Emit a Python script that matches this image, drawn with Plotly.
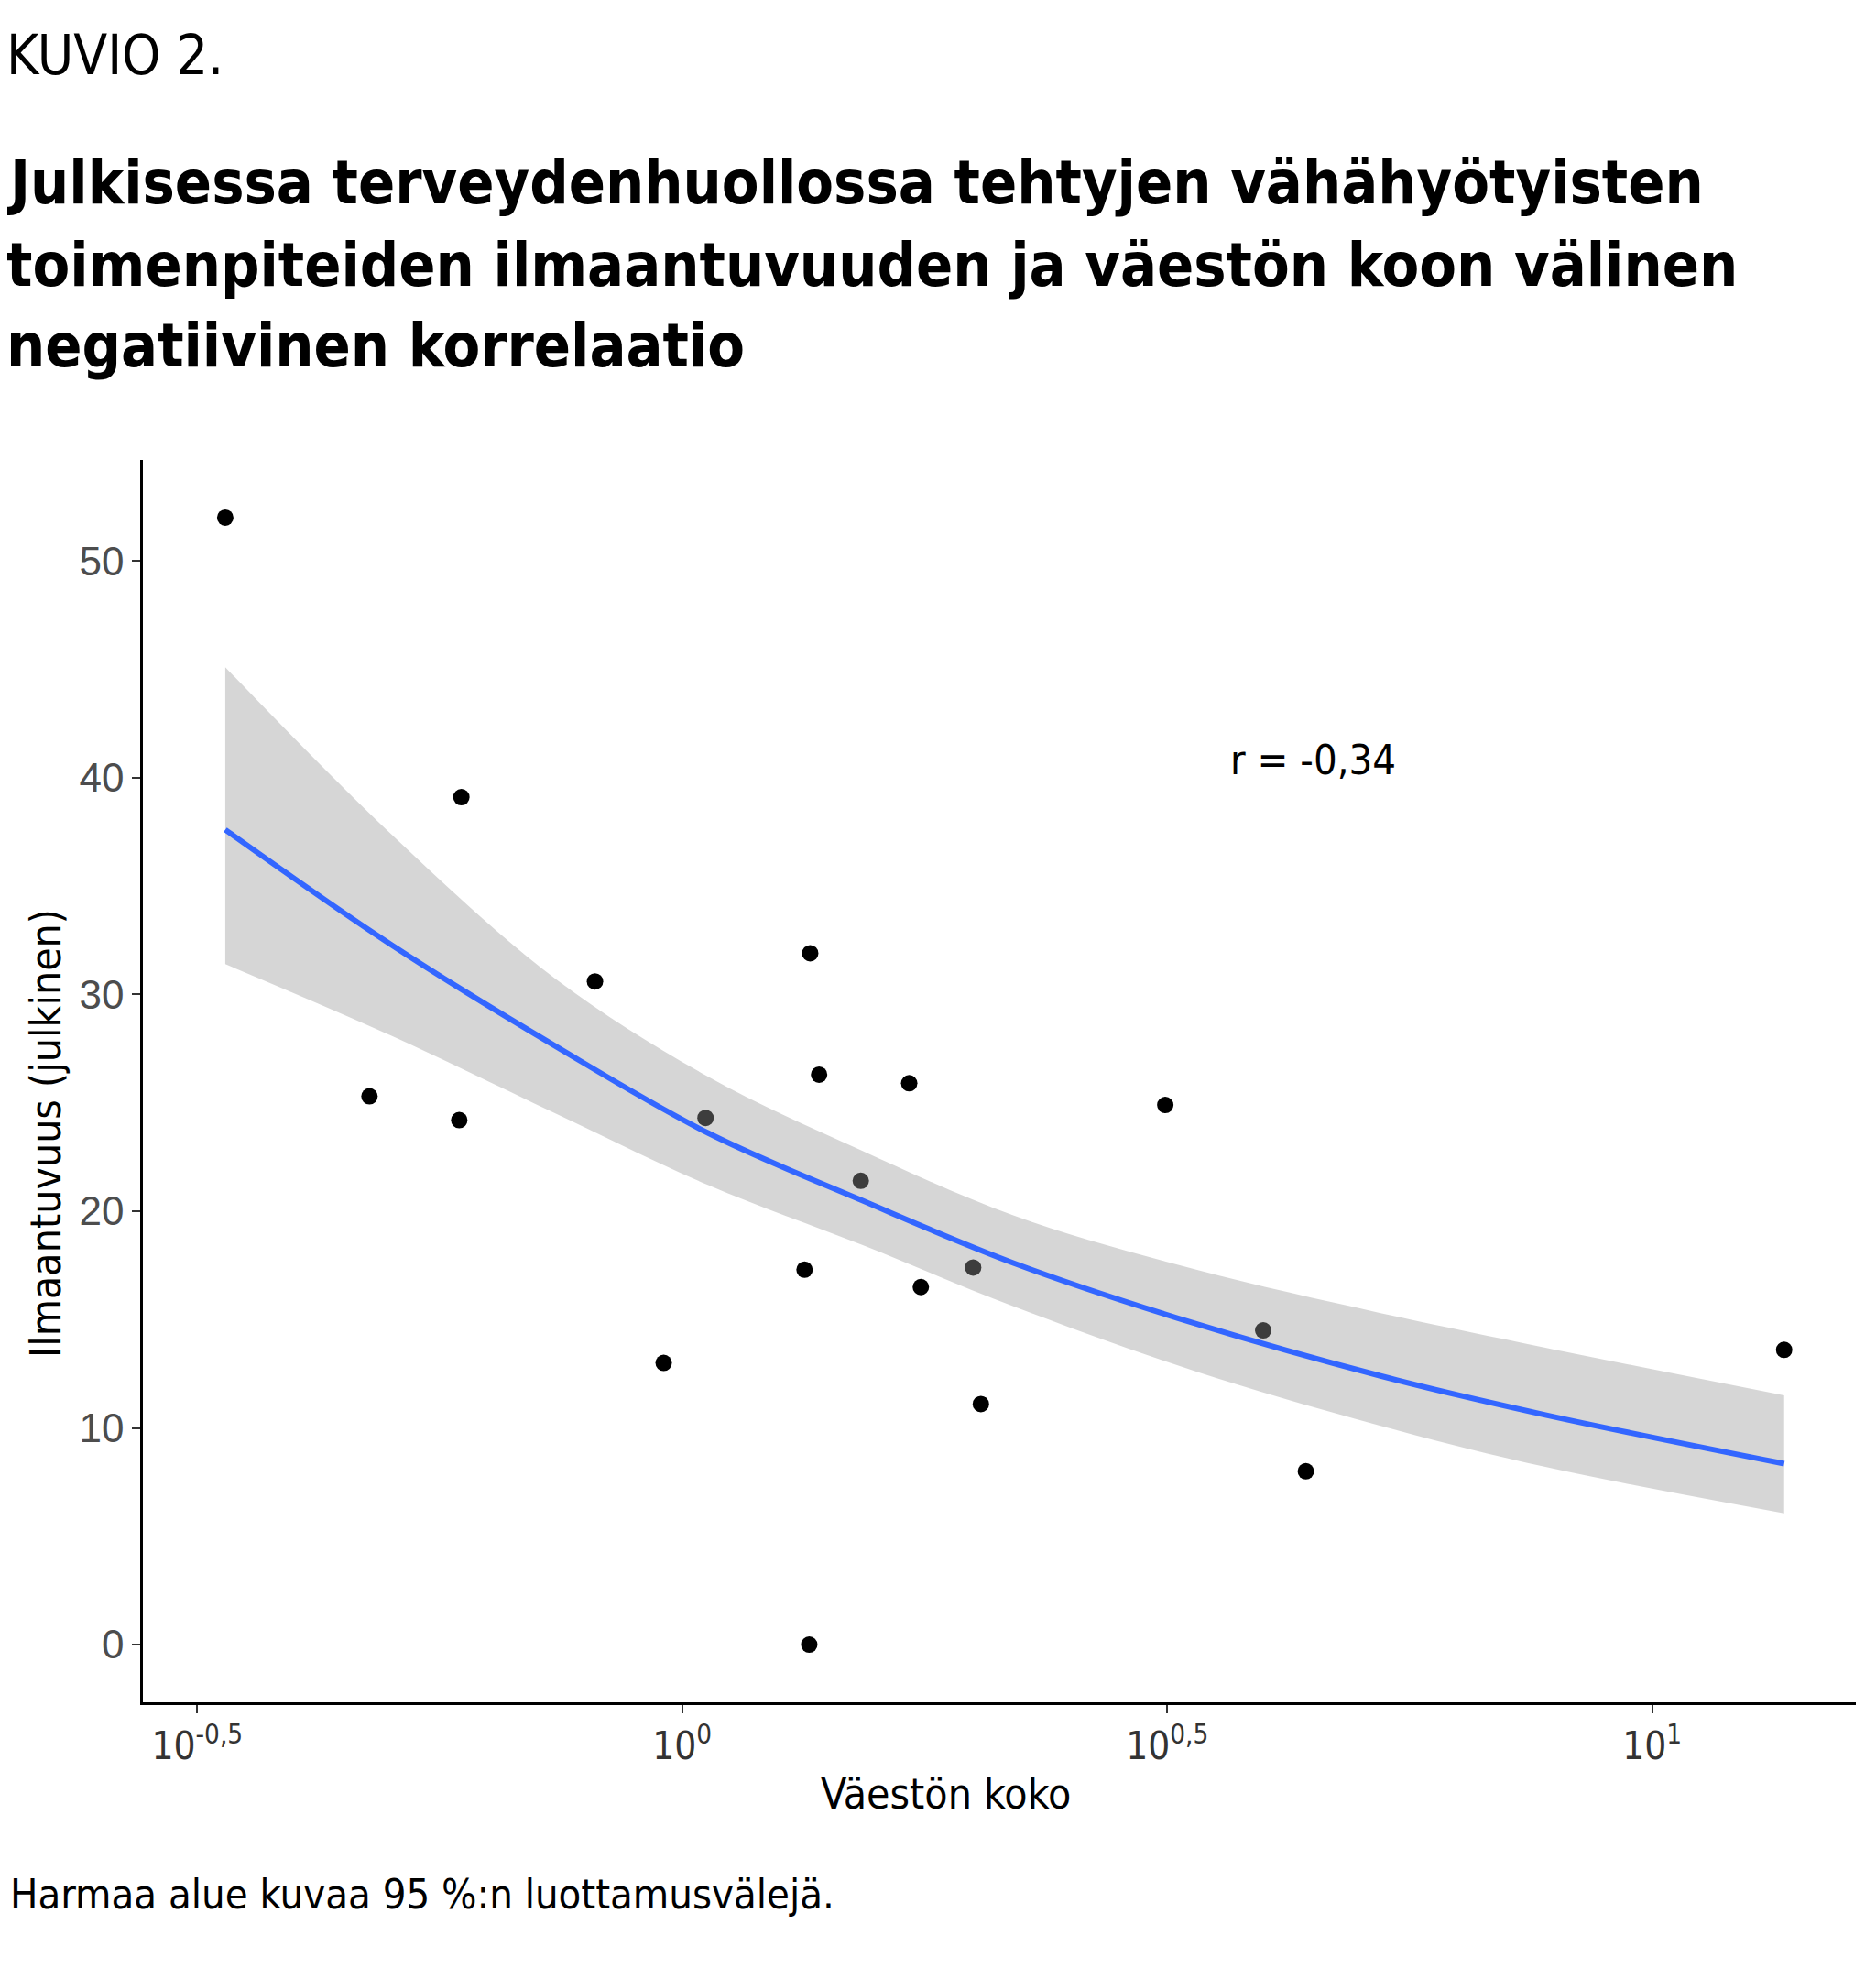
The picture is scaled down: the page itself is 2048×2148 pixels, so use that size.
import plotly.graph_objects as go

# pisteet: väestön koko (log-asteikko) ja ilmaantuvuus
vaesto = [0.338, 0.592, 0.476, 0.589, 0.813, 0.957, 1.057, 1.355, 1.384, 1.337,
          1.352, 1.528, 1.714, 1.762, 1.995, 2.032, 3.148, 3.972, 4.395, 13.68]
ilmaantuvuus = [52.0, 39.1, 25.3, 24.2, 30.6, 13.0, 24.3, 31.9, 26.3, 17.3,
                0.0, 21.4, 25.9, 16.5, 17.4, 11.1, 24.9, 14.5, 8.0, 13.6]

# sovitettu käyrä ja 95 % luottamusväli, luettu kuvasta
kayra_x = [0.338, 0.501, 0.741, 1.064, 1.531, 2.198, 3.388, 5.248, 7.762, 13.68]
kayra_y = [37.6, 32.3, 27.6, 23.6, 20.5, 17.6, 14.8, 12.4, 10.6, 8.35]
ylaraja = [45.1, 37.4, 30.7, 26.2, 22.8, 19.8, 17.3, 15.3, 13.7, 11.5]
alaraja = [31.4, 28.1, 24.5, 21.2, 18.45, 15.6, 12.6, 10.1, 8.2, 6.06]

x_tickvals = [10 ** -0.5, 1, 10 ** 0.5, 10]
x_ticktext = ['10<sup>-0,5</sup>', '10<sup>0</sup>', '10<sup>0,5</sup>', '10<sup>1</sup>']
y_tickvals = [0, 10, 20, 30, 40, 50]

otsikko = ['Julkisessa terveydenhuollossa tehtyjen vähähyötyisten',
           'toimenpiteiden ilmaantuvuuden ja väestön koon välinen',
           'negatiivinen korrelaatio']

narrow = 'Liberation Sans Narrow, DejaVu Sans Condensed, Arial Narrow, sans-serif'
arial = 'Liberation Sans, Arial, sans-serif'

fig = go.Figure()

# pisteet ensin, harmaa alue niiden päälle
fig.add_trace(go.Scatter(x=vaesto, y=ilmaantuvuus, mode='markers',
                         marker=dict(color='black', size=18), showlegend=False))

fig.add_trace(go.Scatter(x=kayra_x, y=alaraja, mode='lines',
                         line=dict(width=0, shape='spline'), showlegend=False,
                         hoverinfo='skip'))
fig.add_trace(go.Scatter(x=kayra_x, y=ylaraja, mode='lines', fill='tonexty',
                         fillcolor='rgba(153,153,153,0.4)',
                         line=dict(width=0, shape='spline'), showlegend=False,
                         hoverinfo='skip'))

fig.add_trace(go.Scatter(x=kayra_x, y=kayra_y, mode='lines',
                         line=dict(color='#3366FF', width=6, shape='spline'),
                         showlegend=False))

fig.update_xaxes(type='log', range=[-0.556, 1.21], tickvals=x_tickvals, ticktext=x_ticktext,
                 showgrid=False, zeroline=False, showline=True, linecolor='black', linewidth=2.5,
                 ticks='outside', ticklen=9, tickwidth=2, tickcolor='#333333',
                 tickfont=dict(family=narrow, size=42, color='#333333'))
fig.update_yaxes(range=[-2.66, 54.66], tickvals=y_tickvals,
                 showgrid=False, zeroline=False, showline=True, linecolor='black', linewidth=2.5,
                 ticks='outside', ticklen=9, tickwidth=2, tickcolor='#333333',
                 tickfont=dict(family=arial, size=44, color='#4d4d4d'))

L, T, B = 148, 494, 298
pw, ph = 2048 - L - 30, 2148 - T - B


def px(x):
    return (x - L) / pw


def py(y):
    return (2148 - B - y) / ph


annotations = [
    dict(text='KUVIO 2.', x=px(-3), y=py(52), xref='paper', yref='paper',
         xanchor='left', yanchor='middle', showarrow=False,
         font=dict(family=narrow, size=60, color='black')),
    dict(text='Väestön koko', x=px(1024), y=py(1950),
         xref='paper', yref='paper', xanchor='center', yanchor='middle', showarrow=False,
         font=dict(family=narrow, size=46, color='black')),
    dict(text='Ilmaantuvuus (julkinen)', x=px(42), y=py(1229),
         xref='paper', yref='paper', xanchor='center', yanchor='middle', showarrow=False,
         textangle=-90, font=dict(family=narrow, size=46, color='black')),
    dict(text='r = -0,34', x=0.65, y=40.8, xref='x', yref='y',
         xanchor='center', yanchor='middle', showarrow=False,
         font=dict(family=narrow, size=45, color='black')),
    dict(text='Harmaa alue kuvaa 95 %:n luottamusvälejä.', x=px(1),
         y=py(2059), xref='paper', yref='paper', xanchor='left', yanchor='middle',
         showarrow=False, font=dict(family=narrow, size=45, color='black')),
]

# otsikon rivit erikseen, jotta riviväli vastaa alkuperäistä
for i, rivi in enumerate(otsikko):
    annotations.append(dict(text='<b>' + rivi + '</b>', x=px(-3), y=py(192 + i * 89),
                            xref='paper', yref='paper', xanchor='left', yanchor='middle',
                            showarrow=False,
                            font=dict(family=narrow, size=66, color='black')))

fig.update_layout(
    width=2048, height=2148,
    margin=dict(l=L, r=30, t=T, b=B),
    paper_bgcolor='white', plot_bgcolor='white',
    annotations=annotations,
)

fig.write_html('out.html')
